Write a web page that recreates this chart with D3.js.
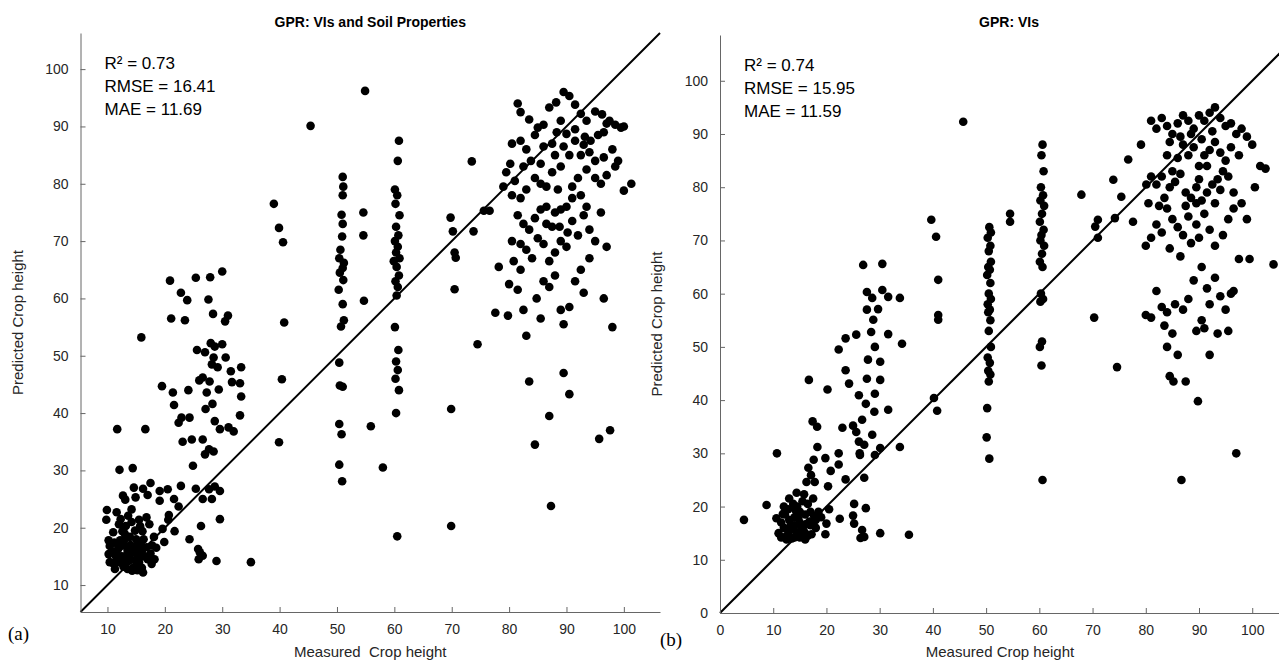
<!DOCTYPE html>
<html>
<head>
<meta charset="utf-8">
<script src="https://cdn.jsdelivr.net/npm/d3@7"></script>
<style>
  body { margin: 0; background: #fff; }
  text { font-family: "Liberation Sans", Arial, sans-serif; }
  text.tag { font-family: "Liberation Serif", "Times New Roman", serif; }
</style>
</head>
<body>
<script>
// panel (a): VIs and soil properties  [measured, predicted]
var pointsA = [
  [9.9,23.1],[9.8,21.4],[11.6,22.7],[10.2,17.8],[11.7,37.2],[16.6,37.2],[15.9,53.2],[12.1,30.1],[14.4,30.4],[17.5,27.8],
  [14.6,27.0],[16.2,26.8],[17.0,25.7],[19.1,26.4],[20.5,26.7],[22.8,27.3],[24.9,30.8],[25.4,26.8],[21.6,25.0],[22.4,23.7],
  [19.1,24.7],[20.7,22.2],[20.6,21.4],[19.6,19.8],[21.7,19.4],[19.9,17.5],[24.3,18.0],[16.8,21.8],[14.2,23.2],[15.5,21.4],
  [12.0,20.6],[13.2,20.3],[14.2,21.0],[15.7,20.3],[11.0,19.2],[12.6,19.4],[10.4,16.8],[10.2,15.4],[10.4,14.0],[11.3,12.8],
  [18.2,14.5],[17.7,13.7],[16.2,12.2],[26.1,15.7],[25.9,14.5],
  [12,14],[12.5,15],[13,13.5],[13.5,16],[14,14.5],[14,17],[14.5,13],[15,15.5],[15,18],[15.5,14],[16,16],[16,13],[13,18],
  [12,16.5],[11.5,15],[14,15.5],[15,16.8],[13.7,14.2],[12.8,13.2],[16.5,15],[17,14.5],[13,19],[14.8,19.5],[15.8,17.2],
  [16.3,18],[12.2,17.8],[11,13.8],[13.4,15.2],[14.3,12.5],[15.3,13.3],[13.2,14.8],[14.6,16.2],[15.6,15.1],[12.4,13.9],
  [16.8,16.6],[11.8,16.2],[13.9,18.4],[14.9,14.2],[12.9,16.9],[15.2,12.6],[13.5,12.8],[17.5,15.5],[18.5,16.5],[10.8,15.9],
  [12.3,21.5],[13.6,22.1],[17.3,20.6],[18.1,18.4],[11.2,17.4],[16.1,19.4],[17.8,16.9],[13.1,24.9],[14.9,25.3],[12.7,25.6],
  [20.9,63.1],[25.4,63.6],[22.8,61.0],[23.9,59.7],[21.1,56.5],[23.5,56.2],[25.6,51.0],[19.5,44.7],[21.4,43.6],[24.1,44.0],
  [21.6,41.4],[22.9,39.2],[22.4,38.3],[24.3,39.2],[23.1,35.0],[24.7,35.4],[26.0,45.7],
  [27.9,63.7],[30.0,64.7],[27.6,59.8],[28.4,57.3],[28.0,52.2],[28.7,51.6],[30.0,52.0],[27.0,50.6],[28.5,49.7],[30.6,49.7],
  [28.2,48.5],[29.2,48.0],[26.6,46.2],[27.8,45.5],[31.5,47.3],[31.7,45.4],[33.3,48.0],[33.1,45.2],[27.3,43.6],[29.4,44.1],
  [27.1,40.7],[28.3,41.6],[28.7,38.6],[29.6,37.2],[31.1,37.5],[32.0,36.8],[33.3,42.9],[33.1,39.6],[27.0,32.8],[27.7,33.7],
  [28.5,33.3],[26.6,35.4],[28.7,27.2],[27.7,26.7],[29.6,26.4],[28.2,25.0],[26.6,25.0],[26.3,20.3],[29.6,21.5],[25.8,16.3],
  [26.6,15.1],[29.0,14.2],[31.0,57.0],[30.5,56.0],
  [35.0,14.0],[39.0,76.5],[39.9,72.3],[40.6,69.8],[40.8,55.8],[40.4,45.9],[39.9,34.9],[45.4,90.1],
  [51,81.2],[51.1,79.5],[51,78],[50.8,74.6],[51,73],[50.9,70.8],[50.6,68.5],[50.4,67],[51.2,66.2],[51,65.3],[50.5,64.5],
  [51.1,63.2],[50.3,61.5],[51,59],[51.2,56.2],[50.7,55.1],[50.4,48.8],[50.5,44.8],[51,44.6],[50.4,38.1],[50.8,36.3],
  [50.4,31.0],[50.9,28.1],
  [54.9,96.2],[54.6,75.0],[54.6,71.0],[54.7,59.6],[55.9,37.7],[58.0,30.5],
  [60.8,87.5],[60.6,84],[60.1,79],[60.5,78],[60.2,76.5],[60.9,74.5],[60.3,72.5],[60.7,71],[60.1,70],[60.6,69],[60.3,68],
  [60.9,67],[59.9,66.5],[60.4,65.5],[60.8,64],[60.2,63],[60.6,62],[60.4,60.5],[60.1,55],[60.7,51],[60.3,49],[60.6,47.5],
  [60.2,46],[60.8,44],[60.3,40],[60.5,18.5],
  [69.8,74.1],[70.2,71.7],[70.5,68.0],[70.7,67.1],[70.5,61.6],[69.9,40.7],[69.9,20.3],[73.5,83.9],[73.8,71.7],[74.5,52.0],
  [75.6,75.3],[76.6,75.3],[77.6,57.5],
  [81.5,94],[82,92.5],[83.5,91.2],[85,89.8],[86,90.3],[87,93.3],[88.2,94.2],[89.5,96],[90.5,95.3],[91.5,93.8],[92.5,92.2],
  [93.5,91],[95,92.6],[96.2,92.1],[97,90.5],[98.5,90.3],[99.5,89.8],[100,90],[101.3,80],[99,84],[100,78.8],[96.5,84.6],
  [95,84],[94,85.5],[93.2,88.2],[91.5,89.5],[90,88.7],[89,91],[88.3,89],[87.5,87],[86,86.5],[84.5,88.5],[83,86],[82,87.5],
  [80.5,87],[79.5,82],[80.2,83.5],[82.5,83],[83.8,84],[81,80.5],[79,79.5],[80.5,78],[82,77.5],[84.5,81],[85.5,80],
  [86.5,79.5],[87.5,82],[88.5,79],[89.5,86.5],[90.5,85],[91.5,87.5],[92.5,85],[93,86.8],[94.2,87.5],[95.5,88.5],[96.5,89],
  [97.5,91],[98,86],[92,81],[93.5,82.5],[95,81],[96,80],[97,81.5],[98.5,83],[91,77.5],[90,76],[89,75.5],[88,75],[87.5,72.5],
  [86.5,76],[85.5,75.5],[84.5,74],[83.5,72],[82.5,73],[81.5,74.5],[80.5,70],[80.8,66.5],[82,65],[83,68.5],[84,67],[85,70.5],
  [86,69.5],[87,66.5],[88,68],[89,70],[90,69],[91,73.5],[92,71],[93,74.5],[94,72],[95,70],[96,75],[97,69],[98,55],[96.5,60],
  [95.7,35.5],[97.6,37],[90.5,43.3],[89.5,47],[87,39.5],[87.3,23.8],[84.5,34.5],[83.5,45.5],[83,53.5],[82.5,58],[81.5,61.5],
  [84.8,60],[85.5,56.5],[86,63],[87,62],[88,64],[89,58],[89.5,55.5],[90.5,58.5],[91.5,63],[92.5,65],[93,61],[94,67],
  [93.5,76],[92.5,78],[91,79.5],[89,83],[88,85],[85.5,83.5],[83,79],[82,69.5],[86.5,73],[88.8,72.5],[90.2,71.5],[80,62.5],
  [79.8,57],[78.2,65.5]
];

// panel (b): VIs only  [measured, predicted]
var pointsB = [
  [4.5,17.5],[10.7,30.0],[8.75,20.3],[10.6,17.8],[16.7,43.8],[17.4,36.0],[18.25,35.0],[18.3,31.2],[20.2,42.0],[19.8,29.1],
  [20.8,26.7],[22.3,27.9],[22.3,30.0],[23.6,25.1],[22.5,17.7],[25.2,20.5],[25.0,18.3],[25.2,16.8],[26.4,14.1],[22.3,49.5],
  [23.6,51.6],[25.6,52.3],[23.6,45.6],[24.25,43.1],[26.1,40.9],[23.0,34.8],[25.0,35.2],[25.6,34.0],[26.1,32.2],[26.25,30.0],
  [16.6,27.3],[17.6,28.8],[17.1,25.9],[17.8,24.6],[16.25,24.6],[14.4,22.6],[13.75,20.5],[12.8,19.5],[12.2,18.5],[20.3,23.8],
  [20.5,19.5],[20.0,16.8],[19.8,14.8],
  [11,15],[11.5,14.2],[12,16],[12.5,14.5],[13,15.5],[13.5,14],[14,16.5],[14.5,15],[15,14.2],[15.5,16],[16,15],[16.5,14.5],
  [17,16.5],[13,17.5],[14,18],[15,17],[16,18.5],[17,19],[18,17.5],[18.5,19],[12,20],[13,21.5],[14.5,20],[15.5,21],[16.5,20.5],
  [15,19],[17.5,21.5],[18,16],[11.5,17],[14,14.2],[16,13.8],[12.5,13.8],[13.8,15.8],[15.7,15.4],[14.7,17.8],[16.8,17.2],
  [19,18],[17.2,14.8],[13.3,16.6],[15.3,15.9],[12.9,14.7],[14.2,19.3],[16.2,16.7],[17.7,18.2],[11.8,18.6],[15.8,22.3],
  [26.9,65.4],[30.5,65.6],[27.6,60.3],[30.5,60.7],[28.6,59.2],[31.6,59.4],[29.7,57.1],[27.6,57.0],[28.8,55.1],[33.8,59.2],
  [28.4,52.8],[31.6,52.4],[34.2,50.6],[29.1,50.0],[27.8,47.6],[30.1,47.2],[27.6,44.0],[30.1,43.8],[29.1,41.2],[27.4,39.3],
  [31.6,38.2],[29.0,37.8],[26.7,36.3],[28.6,33.5],[27.1,31.6],[30.1,31.0],[33.8,31.2],[26.3,29.7],[29.1,29.7],[27.1,25.4],
  [27.4,19.7],[26.7,15.6],[27.1,14.3],[30.1,15.0],[35.5,14.7],
  [39.7,73.9],[40.6,70.7],[41.0,62.6],[41.0,56.0],[41.0,55.1],[40.2,40.4],[40.8,38.0],[45.7,92.3],
  [50.6,72.5],[50.9,71.5],[50.3,70.5],[50.8,69],[50.5,68],[50.9,66],[50.4,65],[50.7,64.5],[50.2,63.5],[50.8,62],[50.5,60],
  [50.9,59],[50.3,58],[50.7,57],[50.4,56.5],[50.8,55],[50.5,53],[50.9,50],[50.3,48],[50.7,47],[50.4,45.5],[50.8,44.8],
  [50.5,43.5],[50.2,38.5],[50.1,33],[50.6,29],
  [54.5,75.0],[54.5,73.5],
  [60.6,88],[60.4,86],[60.8,83],[60.3,80],[60.7,78.5],[60.2,77.5],[60.9,76.5],[60.5,75],[60.1,73.5],[60.8,72],[60.4,71],
  [60.2,70],[60.9,69],[60.5,67.5],[60.1,66],[60.6,65],[60.3,60],[60.7,59],[60.2,58.5],[60.5,51],[60.1,50],[60.4,46.5],
  [60.6,25],
  [67.9,78.6],[71.0,73.9],[70.5,72.6],[71.0,70.5],[70.3,55.5],[73.9,81.4],[76.7,85.2],[74.2,74.2],[77.6,73.5],[74.6,46.2],
  [75.4,78.2],[80.1,80.5],[79.1,88],
  [81,92.5],[82,91],[83,93],[84,91.5],[85,90],[86,92],[87,93.5],[88,92.5],[89,91],[90,93.5],[91,92.5],[92,94],[93,95],
  [94,93],[95,91.5],[96,92],[97,90],[98,91],[99,89.5],[100,88],[101.5,84],[102.5,83.5],[100.5,80],[97.5,86],[96,87.5],
  [95,85],[94,86.5],[93,88.5],[92,87],[91,86],[90,84],[89,87.5],[88,86],[87,88],[86,85.5],[85,83],[84,86],[83,82],
  [82,80.5],[81,82],[80.5,77],[82.5,76.5],[83.5,78],[84.5,80],[85.5,81],[86.5,82.5],[87.5,79],[88.5,78],[89.5,80],
  [90.5,77.5],[91.5,79],[92.5,80.5],[93.5,81.5],[94.5,83],[95.5,82],[96.5,79],[98,77],[99,74],[91,75],[89.5,73],[88,74.5],
  [87,71],[86,72.5],[85,74],[84,76],[83,71.5],[82,73],[81,70.5],[80,69],[84.5,68.5],[86.5,67],[88.5,69.5],[90,70.5],
  [92,72],[93,69],[94.5,71],[95.5,74],[96.5,76],[97.5,66.5],[90.5,65],[89,62.5],[91.5,61],[93,63],[94,59.5],[95,57],
  [96,60],[92,58],[88,59],[87,57],[85.5,58],[84,56.5],[83,57.5],[82,60.5],[81,55.5],[80,56],[83.5,54],[84,50],[85,52.5],
  [86,48.5],[84.5,44.5],[85.2,43.5],[87.5,43.5],[86.7,25],[89.5,53],[90.5,55],[91,53.5],[92,48.5],[93.5,52.5],[95.5,53],
  [97,30],[96.5,60.5],[99.5,66.5],[104,65.5],[89.8,39.8],
  [88.5,90],[90.5,89],[92.5,90.5],[86.5,89.5],[84.5,88.5],[91.5,84],[89.5,77],[87.5,76.5],[93,77],[94,79.5],[90,81.5]
];

var ticksA = [10, 20, 30, 40, 50, 60, 70, 80, 90, 100];
var ticksB = [0, 10, 20, 30, 40, 50, 60, 70, 80, 90, 100];
var titles = ["GPR: VIs and Soil Properties", "GPR: VIs"];
var xLabels = ["Measured\u00a0 Crop height", "Measured Crop height"];
var yLabel = "Predicted Crop height";
var stats = [
  ["R\u00b2 = 0.73", "RMSE = 16.41", "MAE = 11.69"],
  ["R\u00b2 = 0.74", "RMSE = 15.95", "MAE = 11.59"]
];
var tags = ["(a)", "(b)"];

var W = 1279, H = 662;
var svg = d3.select("body").append("svg")
    .attr("width", W)
    .attr("height", H);

var panels = [
  { pts: pointsA, ticks: ticksA, dom: [5.3, 106.3], left: 80.5, right: 660, top: 33, bottom: 612, tagX: 8, tagY: 640 },
  { pts: pointsB, ticks: ticksB, dom: [0, 108.6], left: 720, right: 1298, top: 35, bottom: 613, tagX: 660, tagY: 646 }
];

panels.forEach(function (p, i) {
    var x = d3.scaleLinear().domain(p.dom).range([p.left, p.right]);
    var y = d3.scaleLinear().domain(p.dom).range([p.bottom, p.top]);
    var g = svg.append("g");

    // 1:1 line
    g.append("line")
        .attr("x1", x(p.dom[0])).attr("y1", y(p.dom[0]))
        .attr("x2", x(p.dom[1])).attr("y2", y(p.dom[1]))
        .attr("stroke", "#000")
        .attr("stroke-width", 2);

    g.selectAll("circle")
        .data(p.pts)
        .enter().append("circle")
        .attr("cx", function (d) { return x(d[0]); })
        .attr("cy", function (d) { return y(d[1]); })
        .attr("r", 4.3)
        .attr("fill", "#000");

    // axes, ticks inside like matlab
    var xa = g.append("g")
        .attr("transform", "translate(0," + p.bottom + ")")
        .call(d3.axisBottom(x).tickValues(p.ticks).tickSizeInner(-5).tickSizeOuter(0).tickPadding(12));
    var ya = g.append("g")
        .attr("transform", "translate(" + p.left + ",0)")
        .call(d3.axisLeft(y).tickValues(p.ticks).tickSizeInner(-5).tickSizeOuter(0).tickPadding(12));
    [xa, ya].forEach(function (a) {
        a.select(".domain").attr("stroke", "#666");
        a.selectAll(".tick line").attr("stroke", "#666");
        a.selectAll(".tick text")
            .attr("fill", "#262626")
            .style("font-size", "14px")
            .style("font-family", "'Liberation Sans', Arial, sans-serif");
    });

    g.append("text")
        .attr("x", (p.left + p.right) / 2)
        .attr("y", 27)
        .attr("text-anchor", "middle")
        .attr("font-weight", "bold")
        .attr("font-size", 14)
        .attr("fill", "#000")
        .text(titles[i]);

    g.append("text")
        .attr("x", (p.left + p.right) / 2 - (i == 1 ? 9 : 0))
        .attr("y", 657)
        .attr("text-anchor", "middle")
        .attr("font-size", 15)
        .attr("fill", "#262626")
        .text(xLabels[i]);

    g.append("text")
        .attr("transform", "translate(" + (p.left - 58) + "," + ((p.top + p.bottom) / 2) + ") rotate(-90)")
        .attr("text-anchor", "middle")
        .attr("font-size", 15)
        .attr("fill", "#262626")
        .text(yLabel);

    g.selectAll(".stat")
        .data(stats[i])
        .enter().append("text")
        .attr("class", "stat")
        .attr("x", p.left + 24)
        .attr("y", function (d, k) { return p.top + 36 + k * 23; })
        .attr("font-size", 17)
        .attr("fill", "#000")
        .text(function (d) { return d; });

    g.append("text")
        .attr("class", "tag")
        .attr("x", p.tagX)
        .attr("y", p.tagY)
        .attr("font-size", 19)
        .attr("fill", "#000")
        .text(tags[i]);
});
</script>
</body>
</html>
